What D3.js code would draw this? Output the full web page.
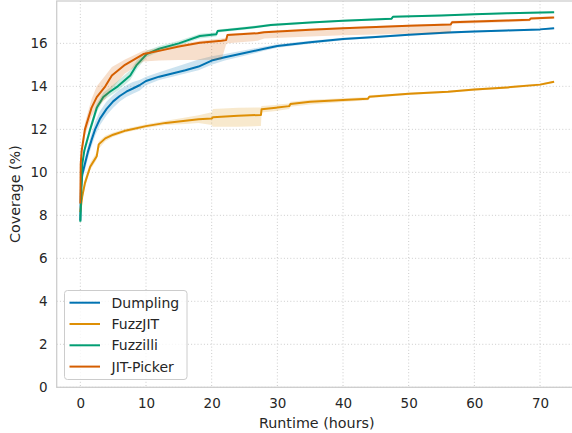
<!DOCTYPE html>
<html>
<head>
<meta charset="utf-8">
<script src="https://cdn.jsdelivr.net/npm/d3@7"></script>
<style>
  body { margin: 0; background: #fff; }
  text { font-family: "DejaVu Sans", sans-serif; fill: #262626; }
</style>
</head>
<body>
<svg id="chart" width="572" height="433"></svg>
<script>
// rows are [hours, mean coverage, ci low, ci high]
const dumpling = [
  [0, 7.8, 7.7, 7.9], [0.1, 9.3, 9.1, 9.5], [0.3, 9.9, 9.7, 10.2], [0.7, 10.4, 10.1, 10.7],
  [1.2, 11.0, 10.7, 11.3], [1.7, 11.5, 11.2, 11.8], [2.25, 12.0, 11.7, 12.35], [3, 12.5, 12.2, 12.85],
  [4, 12.95, 12.65, 13.3], [5, 13.3, 13.0, 13.6], [6, 13.55, 13.3, 13.85], [7, 13.75, 13.5, 14.05],
  [8, 13.9, 13.65, 14.2], [9, 14.05, 13.8, 14.3], [10, 14.25, 14.05, 14.45], [12, 14.45, 14.3, 14.65],
  [14, 14.6, 14.45, 14.85], [16, 14.75, 14.6, 15.05], [18, 14.92, 14.75, 15.25], [20, 15.2, 15.0, 15.4],
  [22, 15.35, 15.2, 15.5], [25, 15.55, 15.42, 15.68], [28, 15.75, 15.65, 15.85], [30, 15.88, 15.8, 15.96],
  [35, 16.05, 15.98, 16.12], [40, 16.2, 16.14, 16.26], [45, 16.3, 16.25, 16.35], [50, 16.4, 16.35, 16.45],
  [56, 16.5, 16.45, 16.55], [60, 16.55, 16.5, 16.6], [65, 16.6, 16.56, 16.64], [70, 16.65, 16.61, 16.69],
  [72, 16.7, 16.66, 16.74]
];
const fuzzjit = [
  [0, 8.2, 8.0, 8.4], [0.3, 8.9, 8.7, 9.1], [0.7, 9.5, 9.3, 9.7], [1.5, 10.26, 10.1, 10.45],
  [2.5, 10.75, 10.6, 10.95], [2.8, 11.3, 11.1, 11.45], [3.8, 11.58, 11.45, 11.7], [5, 11.75, 11.65, 11.85],
  [7, 11.95, 11.86, 12.04], [10, 12.15, 12.06, 12.24], [13, 12.3, 12.2, 12.4], [16, 12.4, 12.25, 12.55],
  [18, 12.47, 12.3, 12.65], [20, 12.5, 12.2, 12.8], [20.2, 12.56, 12.12, 12.95], [24, 12.63, 12.12, 13.0],
  [27.5, 12.67, 12.15, 13.02], [27.6, 12.93, 12.78, 13.08], [29.8, 13.0, 12.85, 13.13], [30, 13.02, 12.87, 13.15],
  [31.8, 13.08, 12.95, 13.2], [32, 13.18, 13.05, 13.28], [35, 13.28, 13.15, 13.38], [40, 13.37, 13.27, 13.45],
  [43.8, 13.42, 13.35, 13.5], [44, 13.52, 13.46, 13.58], [50, 13.65, 13.6, 13.7], [56, 13.75, 13.7, 13.8],
  [60, 13.85, 13.8, 13.9], [65, 13.95, 13.9, 14.0], [70, 14.08, 14.03, 14.13], [72, 14.2, 14.15, 14.25]
];
const fuzzilli = [
  [0, 7.75, 7.65, 7.85], [0.3, 10.4, 10.2, 10.6], [0.6, 11.0, 10.8, 11.2], [1.5, 12.0, 11.8, 12.2],
  [2.5, 13.0, 12.8, 13.2], [3.5, 13.5, 13.35, 13.7], [4.5, 13.75, 13.55, 13.95], [5.7, 14.0, 13.8, 14.25],
  [7.6, 14.5, 14.3, 14.75], [8.6, 15.0, 14.8, 15.2], [10.1, 15.5, 15.35, 15.65], [12, 15.75, 15.62, 15.88],
  [15, 16.0, 15.9, 16.12], [18.2, 16.34, 16.22, 16.45], [20.7, 16.42, 16.32, 16.52], [20.9, 16.57, 16.5, 16.64],
  [25, 16.7, 16.63, 16.77], [29, 16.85, 16.79, 16.91], [35, 16.97, 16.92, 17.02], [40, 17.05, 17.0, 17.1],
  [47.4, 17.15, 17.1, 17.2], [47.6, 17.24, 17.2, 17.28], [55, 17.3, 17.26, 17.34], [60, 17.35, 17.31, 17.39],
  [65, 17.4, 17.36, 17.44], [72, 17.45, 17.41, 17.49]
];
const jitpicker = [
  [0, 8.6, 8.3, 8.9], [0.06, 10.4, 10.1, 10.7], [0.2, 11.0, 10.7, 11.3], [0.7, 12.0, 11.7, 12.3],
  [1.7, 13.0, 12.6, 13.4], [2.5, 13.5, 13.0, 14.0], [3.8, 14.0, 13.4, 14.5], [4.8, 14.5, 13.9, 14.9],
  [6.8, 15.0, 14.6, 15.25], [9.6, 15.5, 15.15, 15.65], [12, 15.65, 15.2, 15.78], [15, 15.85, 15.22, 15.95],
  [18.2, 16.03, 15.22, 16.12], [21.5, 16.12, 15.25, 16.22], [22.2, 16.15, 15.95, 16.25], [22.4, 16.39, 16.0, 16.45],
  [27, 16.47, 16.12, 16.53], [28, 16.52, 16.22, 16.58], [35, 16.63, 16.32, 16.69], [40, 16.7, 16.38, 16.75],
  [50, 16.82, 16.45, 16.87], [56.4, 16.88, 16.5, 16.93], [56.6, 16.98, 16.9, 17.05], [65, 17.06, 16.98, 17.12],
  [68.4, 17.1, 17.03, 17.16], [68.6, 17.16, 17.1, 17.22], [72, 17.2, 17.14, 17.26]
];

const seriesNames = ["Dumpling", "FuzzJIT", "Fuzzilli", "JIT-Picker"];
const seriesColors = ["#0173b2", "#de8f05", "#029e73", "#d55e00"];
const xTicks = [0, 10, 20, 30, 40, 50, 60, 70];
const yTicks = [0, 2, 4, 6, 8, 10, 12, 14, 16];

const allSeries = [dumpling, fuzzjit, fuzzilli, jitpicker];

const svg = d3.select("#chart");
const plotLeft = 56.7, plotRight = 576.8, plotTop = 1, plotBottom = 387.3;

const x = d3.scaleLinear().domain([-3.6, 75.6]).range([plotLeft, plotRight]);
const y = d3.scaleLinear().domain([0, 17.97]).range([plotBottom, plotTop]);

svg.append("defs").append("clipPath").attr("id", "clip")
  .append("rect").attr("x", plotLeft).attr("y", plotTop)
  .attr("width", plotRight - plotLeft).attr("height", plotBottom - plotTop);

// grid
const grid = svg.append("g");
grid.selectAll(".gx").data(xTicks).join("line")
  .attr("x1", d => x(d)).attr("x2", d => x(d))
  .attr("y1", plotTop).attr("y2", plotBottom)
  .attr("stroke", "#cccccc").attr("stroke-width", 1).attr("stroke-dasharray", "1,2.2");
grid.selectAll(".gy").data(yTicks).join("line")
  .attr("x1", plotLeft).attr("x2", plotRight)
  .attr("y1", d => y(d)).attr("y2", d => y(d))
  .attr("stroke", "#cccccc").attr("stroke-width", 1).attr("stroke-dasharray", "1,2.2");

// series: band first, then mean line
const plot = svg.append("g").attr("clip-path", "url(#clip)");
const area = d3.area().x(d => x(d[0])).y0(d => y(d[2])).y1(d => y(d[3]));
const line = d3.line().x(d => x(d[0])).y(d => y(d[1]));

allSeries.forEach((s, i) => {
  plot.append("path").datum(s).attr("d", area)
    .attr("fill", seriesColors[i]).attr("fill-opacity", 0.2).attr("stroke", "none");
  plot.append("path").datum(s).attr("d", line)
    .attr("fill", "none").attr("stroke", seriesColors[i]).attr("stroke-width", 2)
    .attr("stroke-linejoin", "round").attr("stroke-linecap", "square");
});

// frame
svg.append("rect").attr("x", plotLeft).attr("y", plotTop)
  .attr("width", plotRight - plotLeft).attr("height", plotBottom - plotTop)
  .attr("fill", "none").attr("stroke", "#cccccc").attr("stroke-width", 1.25);

// axes
const xAxis = svg.append("g").attr("transform", `translate(0,${plotBottom})`)
  .call(d3.axisBottom(x).tickValues(xTicks).tickSize(0).tickPadding(11));
const yAxis = svg.append("g").attr("transform", `translate(${plotLeft},0)`)
  .call(d3.axisLeft(y).tickValues(yTicks).tickSize(0).tickPadding(9));
[xAxis, yAxis].forEach(a => {
  a.select(".domain").remove();
  a.selectAll("text").attr("font-size", 13.5).attr("font-family", "DejaVu Sans").attr("fill", "#262626");
});

svg.append("text").attr("x", (plotLeft + plotRight) / 2).attr("y", 428)
  .attr("text-anchor", "middle").attr("font-size", 14.3).text("Runtime (hours)");
svg.append("text").attr("transform", `translate(20,${(plotTop + plotBottom) / 2}) rotate(-90)`)
  .attr("text-anchor", "middle").attr("font-size", 14.3).text("Coverage (%)");

// legend
const legend = svg.append("g");
legend.append("rect").attr("x", 64.5).attr("y", 290.5).attr("width", 122.5).attr("height", 89)
  .attr("rx", 3).attr("fill", "#fff").attr("fill-opacity", 0.8)
  .attr("stroke", "#cccccc").attr("stroke-width", 1);
seriesNames.forEach((name, i) => {
  const ly = 302.7 + i * 21.3;
  legend.append("line").attr("x1", 69.5).attr("x2", 100).attr("y1", ly).attr("y2", ly)
    .attr("stroke", seriesColors[i]).attr("stroke-width", 2);
  legend.append("text").attr("x", 111.5).attr("y", ly).attr("dy", "0.36em")
    .attr("font-size", 14).text(name);
});
</script>
</body>
</html>
